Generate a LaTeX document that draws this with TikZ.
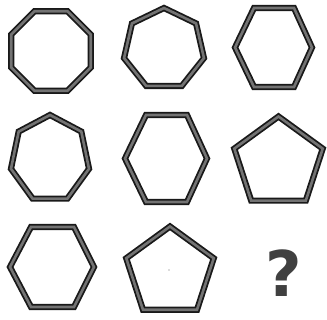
\documentclass[tikz,border=0pt]{standalone}
\usepackage{fontspec}
\newfontfamily\qfont{DejaVu Sans}
\begin{document}
\begin{tikzpicture}[x=1pt,y=-1pt,
  shapeline/.style={draw=black!90,double=black!55,line width=1.8pt,double distance=2.6pt,line join=miter},
  qmark/.style={font=\qfont\bfseries\fontsize{63}{63}\selectfont,text=black!75,inner sep=0pt}]
\useasboundingbox (0,0) rectangle (327,320);
% row 1
\draw[shapeline,shift={(51,51)}] (22.5:43) \foreach \k in {1,...,7} {-- (22.5+\k*45:43)} -- cycle;
\draw[shapeline,shift={(164,49)}] (-90:41) \foreach \k in {1,...,6} {-- (-90+\k*360/7:41)} -- cycle;
\draw[shapeline] (254,8) -- (294,8) -- (312,47.5) -- (294,87) -- (254,87) -- (235,47.5) -- cycle;
% row 2
\draw[shapeline,shift={(50,159)},xscale=0.91] (-90:44) \foreach \k in {1,...,6} {-- (-90+\k*360/7:44)} -- cycle;
\draw[shapeline] (146,115) -- (187,115) -- (207,158.5) -- (187,202) -- (146,202) -- (125,158.5) -- cycle;
\draw[shapeline,shift={(278.5,163)}] (-90:46.5) \foreach \k in {1,...,4} {-- (-90+\k*72:46.5)} -- cycle;
% row 3
\draw[shapeline] (31,227) -- (74,227) -- (94,267) -- (74,307) -- (31,307) -- (10,267) -- cycle;
\draw[shapeline,shift={(170,272.5)}] (-90:46) \foreach \k in {1,...,4} {-- (-90+\k*72:46)} -- cycle;
\fill[black!60] (169,270) circle (0.6);
\node[qmark] (q) at (284,273.5) {?};
\end{tikzpicture}
\end{document}
